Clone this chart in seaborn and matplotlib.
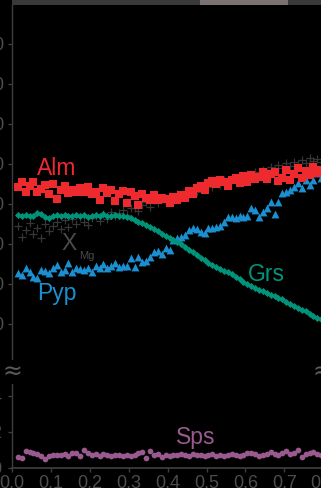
import numpy as np
import pandas as pd
import matplotlib
matplotlib.use("Agg")
import matplotlib.pyplot as plt
from matplotlib.patches import Rectangle
import seaborn as sns

# Garnet core-to-rim traverse: evenly spaced analysis positions (normalised distance)
distance = np.round(np.linspace(0.015, 0.805, 80), 3)

# End-member proportions (mol %)
alm = [44.2, 45.5, 43.0, 44.5, 45.6, 42.9, 43.8, 44.8, 42.6, 44.9,
       41.2, 43.5, 44.6, 42.7, 43.4, 42.9, 44.1, 43.0, 44.2, 42.6,
       43.1, 40.9, 44.0, 42.8, 43.5, 40.8, 42.5, 43.2, 40.2, 43.0,
       42.0, 39.8, 42.4, 41.6, 41.0, 42.2, 40.9, 41.5, 41.2, 40.3,
       41.8, 41.0, 42.3, 41.6, 43.2, 42.5, 44.0, 44.6, 43.5, 45.2,
       45.8, 45.0, 46.1, 45.5, 44.6, 45.9, 46.4, 45.2, 47.0, 45.6,
       47.2, 46.3, 46.8, 48.1, 46.2, 47.6, 47.9, 45.8, 46.4, 48.4,
       46.0, 47.4, 49.0, 46.6, 48.2, 47.2, 49.3, 47.8, 48.6, 47.5]

xmg = [34.5, 31.8, 33.6, 35.2, 32.5, 34.0, 31.5, 35.0, 33.2, 34.6,
       35.4, 33.8, 35.9, 34.3, 36.2, 35.0, 36.8, 35.5, 34.7, 36.6,
       37.0, 35.8, 37.5, 36.2, 38.0, 36.9, 37.8, 38.6, 37.2, 38.9,
       39.0, 38.2, 39.8, 40.5, 39.3, 40.9, 40.2, 41.4, 40.6, 42.0,
       41.2, 42.5, 41.8, 43.0, 42.4, 43.8, 43.1, 44.4, 43.6, 44.9,
       44.2, 45.4, 44.8, 45.9, 45.2, 46.5, 45.8, 46.9, 46.2, 47.5,
       47.0, 48.1, 47.4, 48.6, 48.0, 49.2, 48.5, 49.8, 49.0, 50.2,
       49.6, 50.6, 49.9, 51.0, 50.3, 51.4, 50.7, 51.2, 50.5, 51.6]

grs = [37.2, 37.0, 37.3, 37.1, 37.0, 37.8, 37.4, 36.8, 36.5, 36.9,
       37.3, 37.0, 37.2, 36.9, 37.1, 37.3, 37.0, 37.2, 36.8, 37.1,
       37.2, 37.0, 37.4, 37.1, 37.0, 37.2, 36.9, 37.1, 36.8, 36.4,
       36.0, 35.6, 35.2, 34.8, 34.3, 33.8, 33.2, 32.6, 32.0, 31.5,
       31.0, 30.4, 29.9, 29.2, 28.6, 28.0, 27.3, 26.6, 26.0, 25.2,
       24.7, 24.3, 23.8, 23.3, 22.9, 22.4, 21.8, 21.2, 20.6, 20.1,
       19.5, 19.1, 18.6, 18.2, 17.8, 17.3, 16.9, 16.5, 16.2, 15.6,
       15.0, 14.6, 14.1, 13.6, 13.2, 12.6, 12.0, 11.4, 11.2, 10.8]

pyp = [22.8, 22.2, 24.0, 23.0, 21.7, 21.5, 23.5, 23.2, 22.7, 24.0,
       24.7, 23.0, 23.5, 25.2, 23.0, 24.0, 23.7, 23.5, 24.0, 23.0,
       24.5, 24.0, 25.0, 24.0, 24.5, 25.2, 24.2, 24.5, 24.5, 26.5,
       24.2, 26.7, 25.5, 25.7, 26.7, 28.0, 28.2, 27.5, 29.0, 28.5,
       31.0, 31.5, 31.7, 32.2, 33.5, 34.0, 33.7, 33.0, 32.7, 34.0,
       34.0, 34.2, 34.5, 35.5, 36.7, 36.7, 36.5, 37.0, 36.7, 37.0,
       39.0, 38.5, 36.7, 38.0, 39.0, 40.5, 37.5, 40.5, 42.7, 43.0,
       43.5, 44.2, 45.2, 44.0, 46.0, 44.7, 46.0, 47.7, 46.5, 47.0]

sps = [0.61, 0.55, 0.94, 0.88, 0.84, 0.80, 0.66, 0.52, 0.64, 0.72,
       0.74, 0.70, 0.78, 0.66, 0.86, 0.82, 0.64, 0.98, 0.84, 0.70,
       0.76, 0.68, 0.80, 0.72, 0.66, 0.74, 0.70, 0.68, 0.72, 0.69,
       0.74, 0.82, 0.88, 0.56, 0.92, 0.70, 0.80, 0.62, 0.72, 0.66,
       0.70, 0.74, 0.80, 0.72, 0.68, 0.76, 0.70, 0.74, 0.64, 0.72,
       0.78, 0.68, 0.70, 0.66, 0.72, 0.80, 0.70, 0.68, 0.74, 0.86,
       0.82, 0.76, 0.68, 0.72, 0.80, 0.90, 0.78, 0.70, 0.82, 0.92,
       0.76, 0.84, 1.02, 0.62, 0.78, 0.84, 0.88, 0.80, 0.74, 0.70]

upper_ticks = [10, 20, 30, 40, 50, 60, 70, 80]
lower_ticks = [0, 2, 4]
x_ticks = [0.0, 0.1, 0.2, 0.3, 0.4, 0.5, 0.6, 0.7, 0.8]

df = pd.DataFrame({"d": distance, "Alm": alm, "XMg": xmg, "Grs": grs,
                   "Pyp": pyp, "Sps": sps})

C_ALM = "#ee2a2e"
C_GRS = "#00957a"
C_PYP = "#1b8fcf"
C_SPS = "#9a5a8f"
C_XMG = "#363636"
C_AX = "#3e3e3e"
C_TXT = "#4d4d4d"

sns.set_theme(style="ticks")
plt.rcParams["font.family"] = ["Liberation Sans", "DejaVu Sans"]

W, H = 321, 488
fig = plt.figure(figsize=(W / 100, H / 100), dpi=100, facecolor="black")

def fx(px):
    return px / W

def fy(py):
    return 1 - py / H

left = fx(12)
width = fx(0.85 * 389)
y_top, y_break, y_bot = 5, 372, 468

ax_u = fig.add_axes([left, fy(y_break), width, fy(y_top) - fy(y_break)])
ax_l = fig.add_axes([left, fy(y_bot), width, fy(y_break) - fy(y_bot)])

for ax in (ax_u, ax_l):
    ax.set_facecolor("black")
    ax.set_xlim(0, 0.85)
    for s in ("right", "top", "bottom", "left"):
        ax.spines[s].set_visible(False)
    ax.spines["left"].set_visible(True)
    ax.spines["left"].set_color(C_AX)
    ax.spines["left"].set_linewidth(1.0)
    ax.tick_params(colors=C_AX, labelcolor=C_TXT, length=3, width=1.0,
                   labelsize=13, pad=2.5)
    ax.grid(False)

ax_u.set_ylim(-2, 89.75)
ax_u.set_yticks(upper_ticks)
ax_u.set_yticklabels([str(t) for t in upper_ticks])
ax_u.set_xticks([])

ax_l.set_ylim(0, 5.333)
ax_l.set_yticks(lower_ticks)
ax_l.set_yticklabels([str(t) for t in lower_ticks])
ax_l.tick_params(axis="y", pad=4.5)
ax_l.tick_params(axis="x", pad=2)
ax_l.spines["bottom"].set_visible(True)
ax_l.spines["bottom"].set_color(C_AX)
ax_l.set_xticks(x_ticks)
ax_l.set_xticklabels([f"{t:.1f}" for t in x_ticks])

sns.scatterplot(data=df, x="d", y="XMg", ax=ax_u, marker="+", s=30,
                color=C_XMG, linewidth=0.9, legend=False)
sns.scatterplot(data=df, x="d", y="Pyp", ax=ax_u, marker="^", s=32,
                color=C_PYP, linewidth=0, legend=False)
sns.scatterplot(data=df, x="d", y="Grs", ax=ax_u, marker="D", s=13,
                color=C_GRS, linewidth=0, legend=False)
sns.scatterplot(data=df, x="d", y="Alm", ax=ax_u, marker="s", s=27,
                color=C_ALM, linewidth=0, legend=False)
sns.scatterplot(data=df, x="d", y="Sps", ax=ax_l, marker="o", s=17,
                color=C_SPS, linewidth=0, legend=False)
for ax in (ax_u, ax_l):
    ax.set_xlabel("")
    ax.set_ylabel("")

# Series labels
ax_u.text(0.116, 48.8, "Alm", color=C_ALM, fontsize=16.5, ha="center", va="center")
ax_u.text(0.116, 17.6, "Pyp", color=C_PYP, fontsize=16.5, ha="center", va="center")
ax_u.text(0.654, 22.3, "Grs", color=C_GRS, fontsize=16.5, ha="center", va="center")
ax_l.text(0.473, 1.7, "Sps", color=C_SPS, fontsize=16.5, ha="center", va="center")
ax_u.text(0.148, 30.0, "X", color="#4a4a4a", fontsize=16.5, ha="center", va="center")
ax_u.text(0.192, 27.0, "Mg", color="#4a4a4a", fontsize=8, ha="center", va="center")

# Axis break marks
for px in (12, 322):
    fig.text(fx(px), fy(372), "≈", color="#5a5a5a", fontsize=17,
             ha="center", va="center", family="DejaVu Sans",
             bbox=dict(boxstyle="square,pad=0.0", fc="black", ec="none"))

# Strip along the top edge
fig.patches.append(Rectangle((fx(12), fy(5)), 1 - fx(12), fy(0) - fy(5),
                             transform=fig.transFigure, fc="#3a383b", ec="none"))
fig.patches.append(Rectangle((fx(200), fy(5)), fx(88), fy(0) - fy(5),
                             transform=fig.transFigure, fc="#7a7271", ec="none"))

fig.savefig("out.png", dpi=100, facecolor="black")
